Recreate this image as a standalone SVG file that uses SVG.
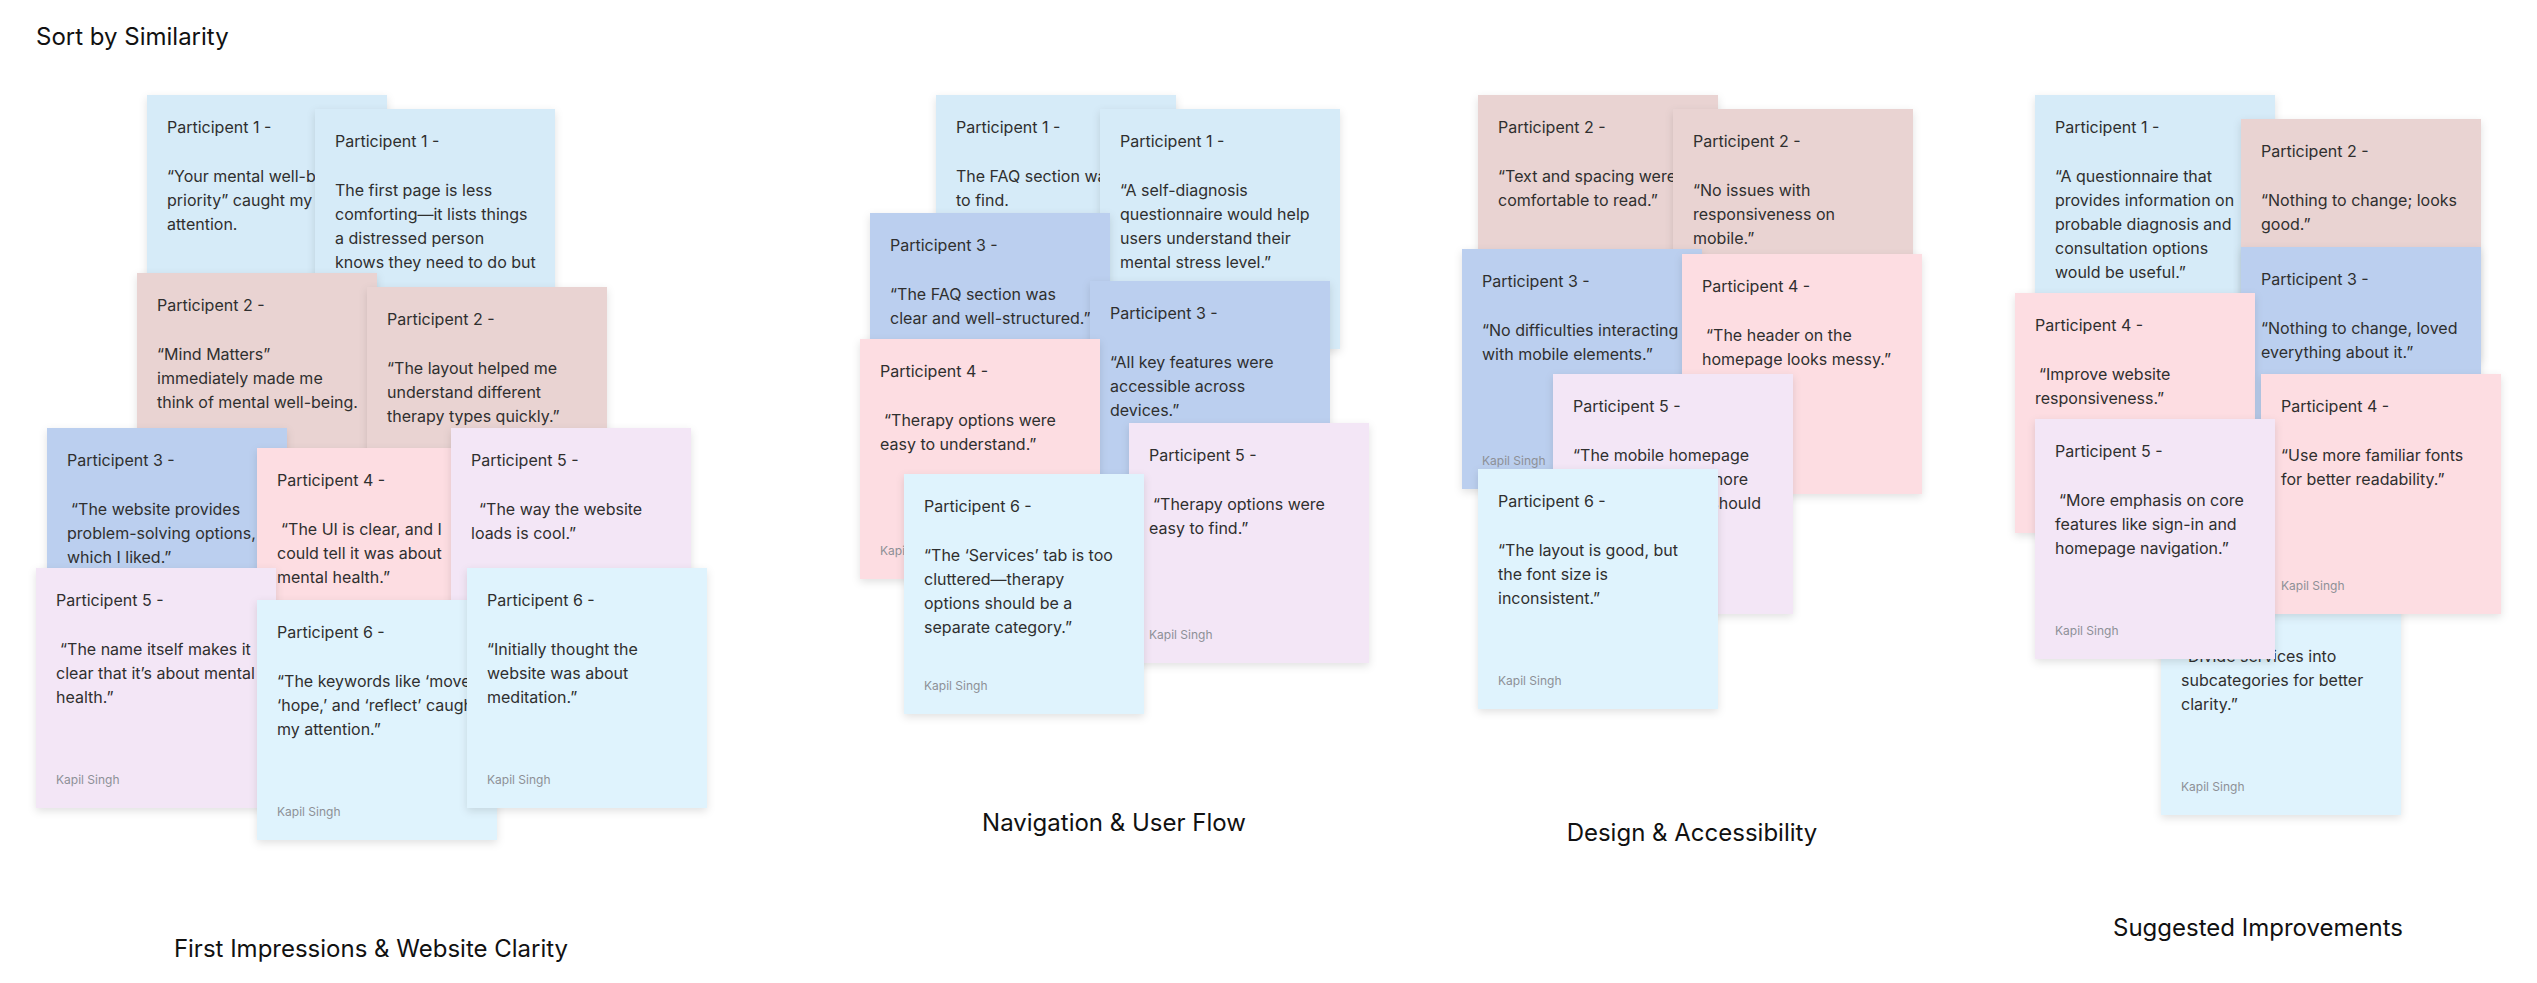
<svg xmlns="http://www.w3.org/2000/svg" width="2537" height="983" viewBox="0 0 2537 983">
<defs>
<filter id="sh" x="-10%" y="-10%" width="120%" height="125%">
<feDropShadow dx="0" dy="3" stdDeviation="4" flood-color="#000" flood-opacity="0.12"/>
</filter>
</defs>
<style>
text{font-family:Inter,"Liberation Sans",sans-serif;}
.card{filter:url(#sh);}
.blue1{fill:#d6ebf8;}
.rose{fill:#e9d3d2;}
.blue2{fill:#bbcfef;}
.pink{fill:#fddde2;}
.lav{fill:#f3e6f6;}
.cyan{fill:#dff3fd;}
.h,.b{font-size:16px;fill:#2f2f2f;}
.k{font-size:12px;fill:#8d9096;}
.lbl{font-size:24px;fill:#111;}
</style>
<rect width="2537" height="983" fill="#ffffff"/>
<g id="connectors"/>

<g id="labels">
<text class="lbl" x="36" y="45">Sort by Similarity</text>
<text class="lbl" x="371" y="957" text-anchor="middle">First Impressions &amp; Website Clarity</text>
<text class="lbl" x="1114" y="831" text-anchor="middle">Navigation &amp; User Flow</text>
<text class="lbl" x="1692" y="841" text-anchor="middle">Design &amp; Accessibility</text>
<text class="lbl" x="2258" y="936" text-anchor="middle">Suggested Improvements</text>
</g>

<!-- Cluster 1 -->
<g id="c1-p1a" transform="translate(147,95)">
<rect class="card blue1" width="240" height="240"/>
<text class="h" x="20" y="38">Participent 1 -</text>
<text class="b" x="20" y="87">“Your mental well-being, our<tspan x="20" dy="24">priority” caught my</tspan><tspan x="20" dy="24">attention.</tspan></text>
</g>
<g id="c1-p1b" transform="translate(315,109)">
<rect class="card blue1" width="240" height="240"/>
<text class="h" x="20" y="38">Participent 1 -</text>
<text class="b" x="20" y="87">The first page is less<tspan x="20" dy="24">comforting—it lists things</tspan><tspan x="20" dy="24">a distressed person</tspan><tspan x="20" dy="24">knows they need to do but</tspan></text>
</g>
<g id="c1-p2a" transform="translate(137,273)">
<rect class="card rose" width="240" height="240"/>
<text class="h" x="20" y="38">Participent 2 -</text>
<text class="b" x="20" y="87">“Mind Matters”<tspan x="20" dy="24">immediately made me</tspan><tspan x="20" dy="24">think of mental well-being.</tspan></text>
</g>
<g id="c1-p2b" transform="translate(367,287)">
<rect class="card rose" width="240" height="240"/>
<text class="h" x="20" y="38">Participent 2 -</text>
<text class="b" x="20" y="87">“The layout helped me<tspan x="20" dy="24">understand different</tspan><tspan x="20" dy="24">therapy types quickly.”</tspan></text>
</g>
<g id="c1-p3" transform="translate(47,428)">
<rect class="card blue2" width="240" height="240"/>
<text class="h" x="20" y="38">Participent 3 -</text>
<text class="b" x="24" y="87">“The website provides<tspan x="20" dy="24">problem-solving options,</tspan><tspan x="20" dy="24">which I liked.”</tspan></text>
</g>
<g id="c1-p4" transform="translate(257,448)">
<rect class="card pink" width="240" height="240"/>
<text class="h" x="20" y="38">Participent 4 -</text>
<text class="b" x="24" y="87">“The UI is clear, and I<tspan x="20" dy="24">could tell it was about</tspan><tspan x="20" dy="24">mental health.”</tspan></text>
</g>
<g id="c1-p5b" transform="translate(451,428)">
<rect class="card lav" width="240" height="240"/>
<text class="h" x="20" y="38">Participent 5 -</text>
<text class="b" x="28" y="87">“The way the website<tspan x="20" dy="24">loads is cool.”</tspan></text>
</g>
<g id="c1-p5a" transform="translate(36,568)">
<rect class="card lav" width="240" height="240"/>
<text class="h" x="20" y="38">Participent 5 -</text>
<text class="b" x="24" y="87">“The name itself makes it<tspan x="20" dy="24">clear that it’s about mental</tspan><tspan x="20" dy="24">health.”</tspan></text>
<text class="k" x="20" y="216">Kapil Singh</text>
</g>
<g id="c1-p6a" transform="translate(257,600)">
<rect class="card cyan" width="240" height="240"/>
<text class="h" x="20" y="38">Participent 6 -</text>
<text class="b" x="20" y="87">“The keywords like ‘move,’<tspan x="20" dy="24">‘hope,’ and ‘reflect’ caught</tspan><tspan x="20" dy="24">my attention.”</tspan></text>
<text class="k" x="20" y="216">Kapil Singh</text>
</g>
<g id="c1-p6b" transform="translate(467,568)">
<rect class="card cyan" width="240" height="240"/>
<text class="h" x="20" y="38">Participent 6 -</text>
<text class="b" x="20" y="87">“Initially thought the<tspan x="20" dy="24">website was about</tspan><tspan x="20" dy="24">meditation.”</tspan></text>
<text class="k" x="20" y="216">Kapil Singh</text>
</g>

<!-- Cluster 2 -->
<g id="c2-p1a" transform="translate(936,95)">
<rect class="card blue1" width="240" height="240"/>
<text class="h" x="20" y="38">Participent 1 -</text>
<text class="b" x="20" y="87">The FAQ section was easy<tspan x="20" dy="24">to find.</tspan></text>
</g>
<g id="c2-p1b" transform="translate(1100,109)">
<rect class="card blue1" width="240" height="240"/>
<text class="h" x="20" y="38">Participent 1 -</text>
<text class="b" x="20" y="87">“A self-diagnosis<tspan x="20" dy="24">questionnaire would help</tspan><tspan x="20" dy="24">users understand their</tspan><tspan x="20" dy="24">mental stress level.”</tspan></text>
</g>
<g id="c2-p3a" transform="translate(870,213)">
<rect class="card blue2" width="240" height="240"/>
<text class="h" x="20" y="38">Participent 3 -</text>
<text class="b" x="20" y="87">“The FAQ section was<tspan x="20" dy="24">clear and well-structured.”</tspan></text>
</g>
<g id="c2-p3b" transform="translate(1090,281)">
<rect class="card blue2" width="240" height="240"/>
<text class="h" x="20" y="38">Participent 3 -</text>
<text class="b" x="20" y="87">“All key features were<tspan x="20" dy="24">accessible across</tspan><tspan x="20" dy="24">devices.”</tspan></text>
</g>
<g id="c2-p4" transform="translate(860,339)">
<rect class="card pink" width="240" height="240"/>
<text class="h" x="20" y="38">Participent 4 -</text>
<text class="b" x="24" y="87">“Therapy options were<tspan x="20" dy="24">easy to understand.”</tspan></text>
<text class="k" x="20" y="216">Kapil Singh</text>
</g>
<g id="c2-p5" transform="translate(1129,423)">
<rect class="card lav" width="240" height="240"/>
<text class="h" x="20" y="38">Participent 5 -</text>
<text class="b" x="24" y="87">“Therapy options were<tspan x="20" dy="24">easy to find.”</tspan></text>
<text class="k" x="20" y="216">Kapil Singh</text>
</g>
<g id="c2-p6" transform="translate(904,474)">
<rect class="card cyan" width="240" height="240"/>
<text class="h" x="20" y="38">Participent 6 -</text>
<text class="b" x="20" y="87">“The ‘Services’ tab is too<tspan x="20" dy="24">cluttered—therapy</tspan><tspan x="20" dy="24">options should be a</tspan><tspan x="20" dy="24">separate category.”</tspan></text>
<text class="k" x="20" y="216">Kapil Singh</text>
</g>

<!-- Cluster 3 -->
<g id="c3-p2a" transform="translate(1478,95)">
<rect class="card rose" width="240" height="240"/>
<text class="h" x="20" y="38">Participent 2 -</text>
<text class="b" x="20" y="87">“Text and spacing were<tspan x="20" dy="24">comfortable to read.”</tspan></text>
</g>
<g id="c3-p2b" transform="translate(1673,109)">
<rect class="card rose" width="240" height="240"/>
<text class="h" x="20" y="38">Participent 2 -</text>
<text class="b" x="20" y="87">“No issues with<tspan x="20" dy="24">responsiveness on</tspan><tspan x="20" dy="24">mobile.”</tspan></text>
</g>
<g id="c3-p3" transform="translate(1462,249)">
<rect class="card blue2" width="240" height="240"/>
<text class="h" x="20" y="38">Participent 3 -</text>
<text class="b" x="20" y="87">“No difficulties interacting<tspan x="20" dy="24">with mobile elements.”</tspan></text>
<text class="k" x="20" y="216">Kapil Singh</text>
</g>
<g id="c3-p4" transform="translate(1682,254)">
<rect class="card pink" width="240" height="240"/>
<text class="h" x="20" y="38">Participent 4 -</text>
<text class="b" x="24" y="87">“The header on the<tspan x="20" dy="24">homepage looks messy.”</tspan></text>
</g>
<g id="c3-p5" transform="translate(1553,374)">
<rect class="card lav" width="240" height="240"/>
<text class="h" x="20" y="38">Participent 5 -</text>
<text class="b" x="20" y="87">“The mobile homepage</text>
<text class="b" x="195" y="111" text-anchor="end">looks cluttered; more</text>
<text class="b" x="208" y="135" text-anchor="end">spacing should</text>
</g>
<g id="c3-p6" transform="translate(1478,469)">
<rect class="card cyan" width="240" height="240"/>
<text class="h" x="20" y="38">Participent 6 -</text>
<text class="b" x="20" y="87">“The layout is good, but<tspan x="20" dy="24">the font size is</tspan><tspan x="20" dy="24">inconsistent.”</tspan></text>
<text class="k" x="20" y="216">Kapil Singh</text>
</g>

<!-- Cluster 4 -->
<g id="c4-p6" transform="translate(2161,575)">
<rect class="card cyan" width="240" height="240"/>
<text class="b" x="20" y="87">“Divide services into<tspan x="20" dy="24">subcategories for better</tspan><tspan x="20" dy="24">clarity.”</tspan></text>
<text class="k" x="20" y="216">Kapil Singh</text>
</g>
<g id="c4-p1" transform="translate(2035,95)">
<rect class="card blue1" width="240" height="240"/>
<text class="h" x="20" y="38">Participent 1 -</text>
<text class="b" x="20" y="87">“A questionnaire that<tspan x="20" dy="24">provides information on</tspan><tspan x="20" dy="24">probable diagnosis and</tspan><tspan x="20" dy="24">consultation options</tspan><tspan x="20" dy="24">would be useful.”</tspan></text>
</g>
<g id="c4-p2" transform="translate(2241,119)">
<rect class="card rose" width="240" height="240"/>
<text class="h" x="20" y="38">Participent 2 -</text>
<text class="b" x="20" y="87">“Nothing to change; looks<tspan x="20" dy="24">good.”</tspan></text>
</g>
<g id="c4-p3" transform="translate(2241,247)">
<rect class="card blue2" width="240" height="240"/>
<text class="h" x="20" y="38">Participent 3 -</text>
<text class="b" x="20" y="87">“Nothing to change, loved<tspan x="20" dy="24">everything about it.”</tspan></text>
</g>
<g id="c4-p4a" transform="translate(2015,293)">
<rect class="card pink" width="240" height="240"/>
<text class="h" x="20" y="38">Participent 4 -</text>
<text class="b" x="24" y="87">“Improve website<tspan x="20" dy="24">responsiveness.”</tspan></text>
</g>
<g id="c4-p4b" transform="translate(2261,374)">
<rect class="card pink" width="240" height="240"/>
<text class="h" x="20" y="38">Participent 4 -</text>
<text class="b" x="20" y="87">“Use more familiar fonts<tspan x="20" dy="24">for better readability.”</tspan></text>
<text class="k" x="20" y="216">Kapil Singh</text>
</g>
<g id="c4-p5" transform="translate(2035,419)">
<rect class="card lav" width="240" height="240"/>
<text class="h" x="20" y="38">Participent 5 -</text>
<text class="b" x="24" y="87">“More emphasis on core<tspan x="20" dy="24">features like sign-in and</tspan><tspan x="20" dy="24">homepage navigation.”</tspan></text>
<text class="k" x="20" y="216">Kapil Singh</text>
</g>
</svg>
